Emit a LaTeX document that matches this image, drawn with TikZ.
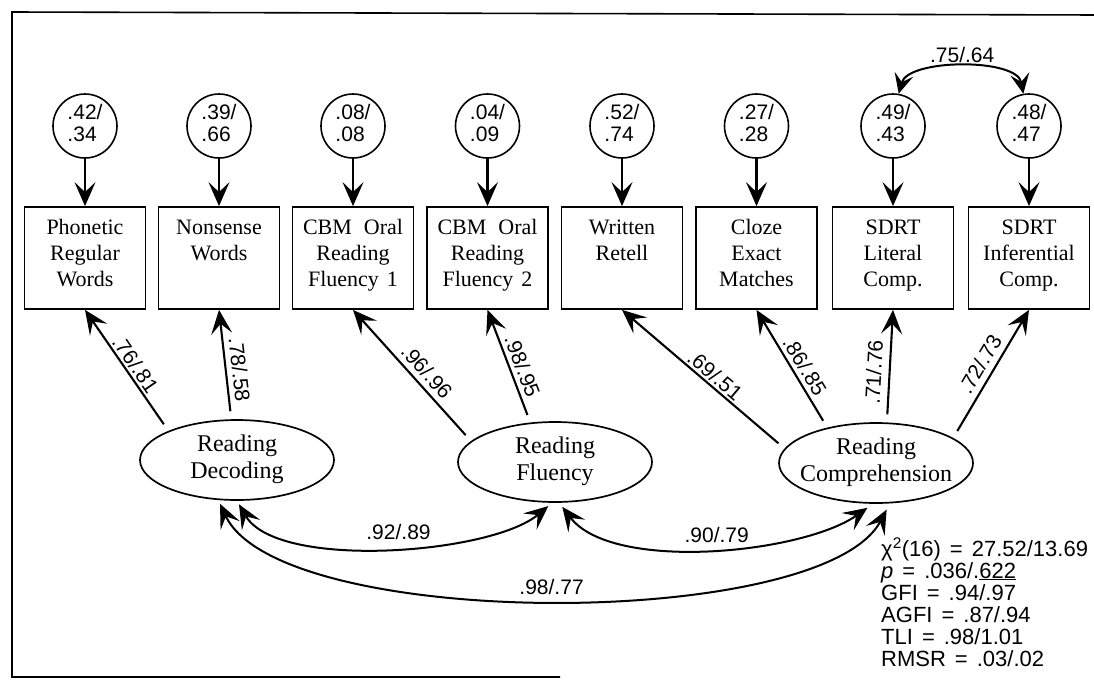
\documentclass[tikz,border=0pt]{standalone}
\usepackage{fontspec}
\setmainfont{Liberation Serif}
\newfontfamily\numfont{Liberation Sans}
\usetikzlibrary{arrows.meta,shapes.geometric}
\newcommand{\bxt}[1]{\parbox[c][102pt][t]{119pt}{\centering\rule{0pt}{27.5pt}#1\par}}
\newcommand{\lvt}[1]{\makebox[0pt]{\begin{tabular}{@{}c@{}}#1\end{tabular}}}
\newcommand{\ert}[1]{\begin{tabular}{@{}l@{}}#1\end{tabular}}
\newcommand{\eqs}{\hspace{9pt}=\hspace{9pt}}
\tikzset{
  hd/.tip={Stealth[length=24pt,width=21pt,inset=10pt]},
  hds/.tip={Stealth[length=20pt,width=19pt,inset=8pt]},
  obs/.style={draw,line width=1.8pt,rectangle,minimum width=121pt,minimum height=102pt,inner sep=0pt,font=\fontsize{22}{26}\selectfont},
  lat/.style={draw,ellipse,line width=1.7pt,minimum width=194pt,minimum height=80pt,inner sep=0pt,font=\fontsize{24}{27}\selectfont},
  err/.style={draw,circle,line width=1.6pt,minimum size=64pt,inner sep=0pt,font=\numfont\fontsize{21}{22}\selectfont},
  arr/.style={line width=2.1pt,-hd},
  ldg/.style={line width=2.1pt,-hd,shorten <=8pt},
  cor/.style={line width=2pt,hd-hd},
  cors/.style={line width=2pt,hds-hds},
  num/.style={font=\numfont\fontsize{21}{22}\selectfont,inner sep=0pt},
  ld/.style={num,sloped},
  stat/.style={font=\numfont\fontsize{22}{22}\selectfont,inner sep=0pt,anchor=base west},
  frame/.style={line width=1.6pt}
}
\begin{document}
\begin{tikzpicture}[x=1pt,y=1pt]
\useasboundingbox (0,0) rectangle (1094,-681);
\draw[frame] (1100,-15) -- (12,-12) -- (12,-677) -- (560,-677);

% error terms
\node[err] (e1) at (85,-126)    {\ert{.42/\\.34}};
\node[err] (e2) at (219,-126)   {\ert{.39/\\.66}};
\node[err] (e3) at (353,-126)   {\ert{.08/\\.08}};
\node[err] (e4) at (487.5,-126) {\ert{.04/\\.09}};
\node[err] (e5) at (622,-126)   {\ert{.52/\\.74}};
\node[err] (e6) at (756.5,-126) {\ert{.27/\\.28}};
\node[err] (e7) at (893,-126)   {\ert{.49/\\.43}};
\node[err] (e8) at (1029,-126)  {\ert{.48/\\.47}};

% observed variables
\node[obs] (b1) at (85,-258)    {\bxt{Phonetic\\Regular\\Words}};
\node[obs] (b2) at (219,-258)   {\bxt{Nonsense\\Words}};
\node[obs] (b3) at (353,-258)   {\bxt{CBM\hspace{12pt}Oral\\Reading\\Fluency\hspace{8pt}1}};
\node[obs] (b4) at (487.5,-258) {\bxt{CBM\hspace{12pt}Oral\\Reading\\Fluency\hspace{8pt}2}};
\node[obs] (b5) at (622,-258)   {\bxt{Written\\Retell}};
\node[obs] (b6) at (756.5,-258) {\bxt{Cloze\\Exact\\Matches}};
\node[obs] (b7) at (893,-258)   {\bxt{SDRT\\Literal\\Comp.}};
\node[obs] (b8) at (1029,-258)  {\bxt{SDRT\\Inferential\\Comp.}};

% latent variables
\node[lat] (D) at (237,-460) {\lvt{Reading\\Decoding}};
\node[lat] (F) at (555,-462) {\lvt{Reading\\Fluency}};
\node[lat] (C) at (876,-463) {\lvt{Reading\\Comprehension}};

% error arrows
\foreach \i in {1,...,8} {\draw[arr] (e\i) -- (b\i);}

% loadings
\draw[ldg] (D.157) -- node[ld,pos=.50,above=2pt]{.76/.81} (b1.south);
\draw[ldg] (D.98)  -- node[ld,pos=.44,above=5pt]{.78/.58} (b2.south);
\draw[ldg] (F.166) -- node[ld,pos=.46,above=5pt]{.96/.96} (b3.south);
\draw[ldg] (F.122) -- node[ld,pos=.46,above=4pt]{.98/.95} (b4.south);
\draw[ldg] (C.171) -- node[ld,pos=.47,above=2pt]{.69/.51} (b5.south);
\draw[ldg] (C.144) -- node[ld,pos=.47,above=4pt]{.86/.85} (b6.south);
\draw[ldg] (C.75)  -- node[ld,pos=.44,above=7pt]{.71/.76} (b7.south);
\draw[ldg] (C.18)  -- node[ld,pos=.52,above=6pt]{.72/.73} (b8.south);

% correlations
\draw[cor,shorten <=4pt,shorten >=5pt] (D.-90) to[out=-60,in=-140,looseness=0.65]
  node[num,pos=.53,above=6pt]{.92/.89} (F.-94);
\draw[cor,shorten <=5pt,shorten >=7pt] (F.-84) to[out=-53,in=-145,looseness=0.71]
  node[num,pos=.52,above=4pt]{.90/.79} (C.-94);
\draw[cor,shorten <=4pt,shorten >=7pt] (D.-115) to[out=-65,in=-118,looseness=0.55]
  node[num,pos=.5,above=3pt]{.98/.77} (C.-71);
\draw[cors] (e7.80) to[out=75,in=100,looseness=0.75]
  node[num,midway,above=3pt]{.75/.64} (e8.100);

% fit statistics
\node[stat] (s1) at (881,-556) {χ\textsuperscript{2}(16)\eqs 27.52/13.69};
\node[stat] (s2) at (881,-578) {\textit{p}\eqs .036/.\underline{622}};
\node[stat] (s3) at (881,-600) {GFI\eqs .94/.97};
\node[stat] (s4) at (881,-622) {AGFI\eqs .87/.94};
\node[stat] (s5) at (881,-644) {TLI\eqs .98/1.01};
\node[stat] (s6) at (881,-666) {RMSR\eqs .03/.02};
\end{tikzpicture}
\end{document}
